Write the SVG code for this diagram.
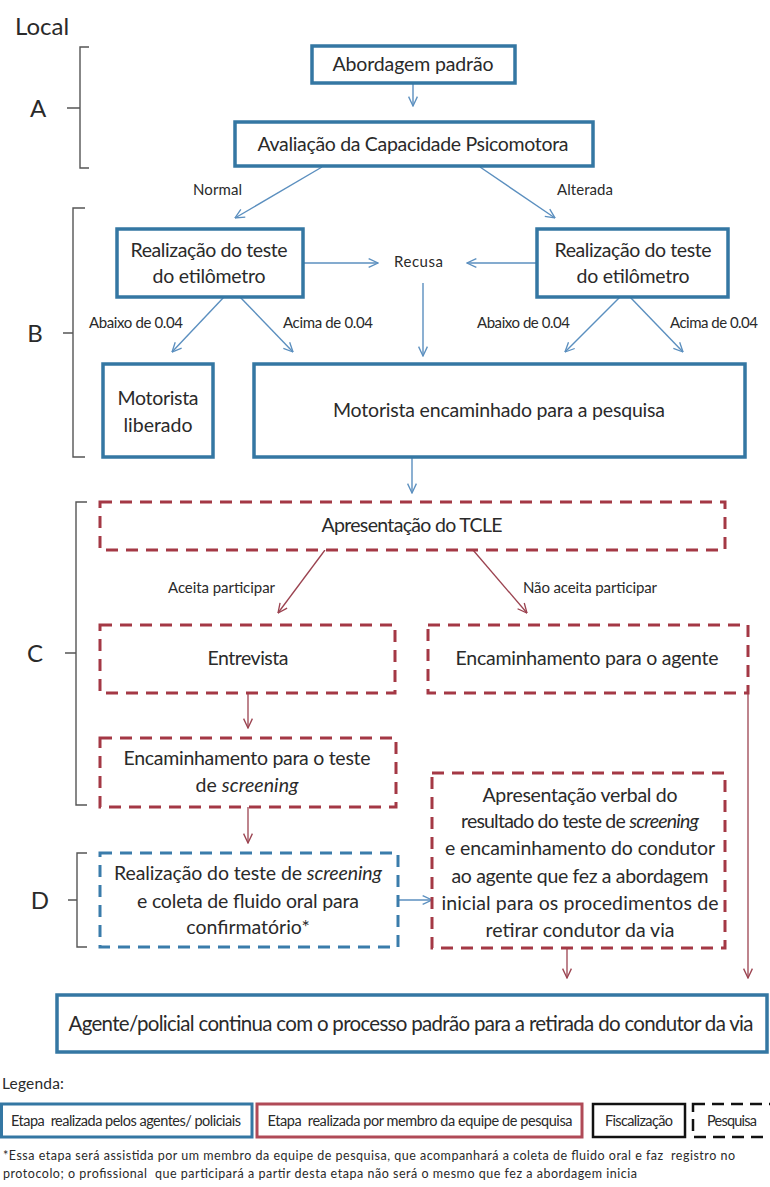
<svg xmlns="http://www.w3.org/2000/svg" width="770" height="1187" viewBox="0 0 770 1187">
<style>
text{font-family:Lato,"Liberation Sans",sans-serif;fill:#2a2a2a}
.bt{font-size:19.5px;text-anchor:middle}
.lb{font-size:15px}
.lt{font-size:24px;text-anchor:middle}
.bb{fill:#fff;stroke:#3477a3;stroke-width:3.5}
.rd{fill:#fff;stroke:#a43845;stroke-width:3;stroke-dasharray:12 8}
.bd{fill:#fff;stroke:#3a7cab;stroke-width:3;stroke-dasharray:12 8}
.br{fill:none;stroke:#555;stroke-width:1.4}
.ca{fill:none;stroke:#5b8fbf;stroke-width:1.4;marker-end:url(#ab)}
.cr{fill:none;stroke:#9b4350;stroke-width:1.3;marker-end:url(#ar)}
.lg{font-size:14.5px;text-anchor:middle}
.fn{font-size:12.5px}
.it{font-style:italic}
</style>
<defs>
<marker id="ab" viewBox="0 0 10 10" refX="9.5" refY="5" markerWidth="11" markerHeight="11" markerUnits="userSpaceOnUse" orient="auto"><path d="M1,1 L9.5,5 L1,9" fill="none" stroke="#5b8fbf" stroke-width="1.2"/></marker>
<marker id="ar" viewBox="0 0 10 10" refX="9.5" refY="5" markerWidth="11" markerHeight="11" markerUnits="userSpaceOnUse" orient="auto"><path d="M1,1 L9.5,5 L1,9" fill="none" stroke="#9b4350" stroke-width="1.2"/></marker>
</defs>
<rect width="770" height="1187" fill="#fff"/>

<text x="15" y="35" style="font-size:24px">Local</text>

<g id="braces">
<path class="br" d="M89,47 H80 V168 H89 M80,108 H67"/>
<text class="lt" x="38" y="117">A</text>
<path class="br" d="M85,208 H73 V457 H85 M73,333 H63"/>
<text class="lt" x="35" y="342">B</text>
<path class="br" d="M87,502 H76 V805 H87 M76,653 H65"/>
<text class="lt" x="35" y="662">C</text>
<path class="br" d="M87,853 H77 V947 H87 M77,900 H68"/>
<text class="lt" x="40" y="909">D</text>
</g>

<g id="connectors">
<path class="ca" d="M413,84 V106"/>
<path class="ca" d="M322,167 L235,218"/>
<path class="ca" d="M480,167 L555,218"/>
<path class="ca" d="M303,263 H378"/>
<path class="ca" d="M537,263 H467"/>
<path class="ca" d="M423,283 V356"/>
<path class="ca" d="M224,297 L172,352"/>
<path class="ca" d="M240,297 L293,352"/>
<path class="ca" d="M620,297 L565,352"/>
<path class="ca" d="M630,297 L683,352"/>
<path class="ca" d="M412,457 V493"/>
<path class="ca" d="M398,900 H432"/>
<path class="cr" d="M325,550 L278,613"/>
<path class="cr" d="M473,550 L527,613"/>
<path class="cr" d="M248,693 V728"/>
<path class="cr" d="M248,807 V843"/>
<path class="cr" d="M567,948 V978"/>
<path class="cr" d="M748,693 V978"/>
<text class="lb" x="193" y="195" textLength="49">Normal</text>
<text class="lb" x="557" y="195" textLength="56">Alterada</text>
<text class="lb" x="394" y="267" textLength="49">Recusa</text>
<text class="lb" x="89" y="328" textLength="94">Abaixo de 0.04</text>
<text class="lb" x="283" y="328" textLength="90">Acima de 0.04</text>
<text class="lb" x="477" y="328" textLength="93">Abaixo de 0.04</text>
<text class="lb" x="670" y="328" textLength="88">Acima de 0.04</text>
<text class="lb" x="168" y="593" textLength="107">Aceita participar</text>
<text class="lb" x="523" y="593" textLength="134">Não aceita participar</text>
</g>

<g id="n-abordagem">
<rect class="bb" x="312" y="46" width="203" height="37"/>
<text class="bt" x="413" y="71" textLength="161">Abordagem padrão</text>
</g>
<g id="n-avaliacao">
<rect class="bb" x="235" y="122" width="358" height="44"/>
<text class="bt" x="413" y="151" textLength="311">Avaliação da Capacidade Psicomotora</text>
</g>
<g id="n-etil-left">
<rect class="bb" x="117" y="229" width="186" height="68"/>
<text class="bt" x="209" y="257" textLength="157">Realização do teste</text>
<text class="bt" x="209" y="283" textLength="113">do etilômetro</text>
</g>
<g id="n-etil-right">
<rect class="bb" x="537" y="229" width="191" height="68"/>
<text class="bt" x="633" y="257" textLength="157">Realização do teste</text>
<text class="bt" x="633" y="283" textLength="113">do etilômetro</text>
</g>
<g id="n-liberado">
<rect class="bb" x="103" y="364" width="110" height="93"/>
<text class="bt" x="158" y="405" textLength="81">Motorista</text>
<text class="bt" x="158" y="432" textLength="69">liberado</text>
</g>
<g id="n-encaminhado">
<rect class="bb" x="254" y="364" width="491" height="93"/>
<text class="bt" x="499" y="417" textLength="332">Motorista encaminhado para a pesquisa</text>
</g>
<g id="n-tcle">
<rect class="rd" x="100" y="502" width="625" height="48"/>
<text class="bt" x="412" y="532" textLength="181">Apresentação do TCLE</text>
</g>
<g id="n-entrevista">
<rect class="rd" x="100" y="625" width="295" height="68"/>
<text class="bt" x="248" y="665" textLength="81">Entrevista</text>
</g>
<g id="n-agente">
<rect class="rd" x="428" y="625" width="320" height="68"/>
<text class="bt" x="587" y="665" textLength="263">Encaminhamento para o agente</text>
</g>
<g id="n-enc-screening">
<rect class="rd" x="100" y="738" width="296" height="69"/>
<text class="bt" x="247" y="765" textLength="247">Encaminhamento para o teste</text>
<text class="bt" x="247" y="792" textLength="103">de <tspan class="it">screening</tspan></text>
</g>
<g id="n-screening">
<rect class="bd" x="100" y="853" width="298" height="94"/>
<text class="bt" x="248" y="880" textLength="268">Realização do teste de <tspan class="it">screening</tspan></text>
<text class="bt" x="248" y="908" textLength="222">e coleta de fluido oral para</text>
<text class="bt" x="248" y="934">confirmatório*</text>
</g>
<g id="n-verbal">
<rect class="rd" x="432" y="773" width="293" height="175"/>
<text class="bt" x="580" y="802" textLength="195">Apresentação verbal do</text>
<text class="bt" x="580" y="828" textLength="238">resultado do teste de <tspan class="it">screening</tspan></text>
<text class="bt" x="580" y="855" textLength="270">e encaminhamento do condutor</text>
<text class="bt" x="580" y="883" textLength="257">ao agente que fez a abordagem</text>
<text class="bt" x="580" y="910" textLength="277">inicial para os procedimentos de</text>
<text class="bt" x="580" y="937" textLength="189">retirar condutor da via</text>
</g>
<g id="n-final">
<rect class="bb" x="57" y="995" width="710" height="57"/>
<text class="bt" x="411" y="1031" textLength="685" style="font-size:20.5px">Agente/policial continua com o processo padrão para a retirada do condutor da via</text>
</g>

<g id="legend">
<text x="2" y="1089" style="font-size:15.5px" textLength="62">Legenda:</text>
<rect x="1.5" y="1104" width="250.5" height="33" fill="#fff" stroke="#3477a3" stroke-width="3"/>
<text class="lg" x="126" y="1126" textLength="230" xml:space="preserve">Etapa  realizada pelos agentes/ policiais</text>
<rect x="257" y="1104" width="325" height="33" fill="#fff" stroke="#b04a57" stroke-width="3"/>
<text class="lg" x="420" y="1126" textLength="305" xml:space="preserve">Etapa  realizada por membro da equipe de pesquisa</text>
<rect x="593" y="1104" width="92" height="33" fill="#fff" stroke="#111" stroke-width="2.5"/>
<text class="lg" x="639" y="1126" textLength="68">Fiscalização</text>
<rect x="693" y="1104" width="85" height="33" fill="#fff" stroke="#111" stroke-width="2.5" stroke-dasharray="12 7"/>
<text class="lg" x="732" y="1126" textLength="50">Pesquisa</text>
</g>

<g id="footnote">
<text class="fn" x="3" y="1160" textLength="732" xml:space="preserve">*Essa etapa será assistida por um membro da equipe de pesquisa, que acompanhará a coleta de fluido oral e faz  registro no</text>
<text class="fn" x="3" y="1178" textLength="634" xml:space="preserve">protocolo; o profissional  que participará a partir desta etapa não será o mesmo que fez a abordagem inicia</text>
</g>
</svg>
